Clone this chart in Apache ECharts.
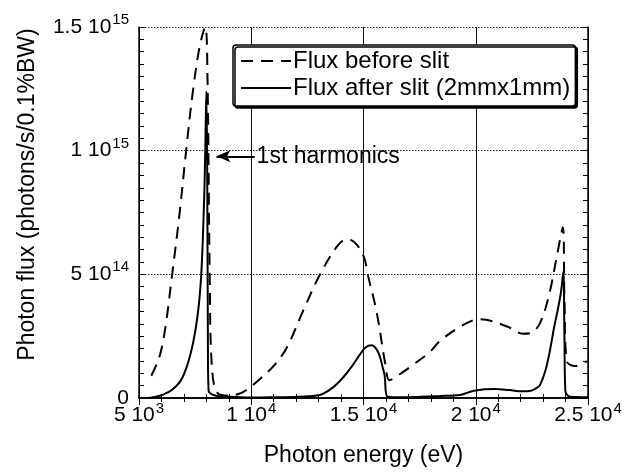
<html>
<head>
    <meta charset="UTF-8">
    <title>Photon flux</title>
    <script src="https://cdn.jsdelivr.net/npm/echarts@6/dist/echarts.min.js"></script>
    <style>
        body { margin: 0; background: #fff; }
        #container { width: 635px; height: 472px; }
    </style>
</head>

<body>
    <div id="container"></div>
</body>

<script>
    // photon energy in eV, flux in units of 1e14 photons/s/0.1%BW
    var beforeX = [5550, 5800, 5980, 6200, 6470, 6800, 7100, 7400, 7700, 7950, 8050, 8150, 8250, 8500, 9000, 9400, 9777,
        10300, 11000, 11560, 12300, 13036, 13840, 14285, 14700, 15045, 15180, 15580, 15980, 16160, 16600, 17190,
        18000, 18390, 19150, 19870, 20180, 20760, 21500, 22100, 22500, 22900, 23300, 23615, 23880, 23950, 24050,
        24420, 24950];
    var beforeY = [0.9, 1.4, 1.9, 3.0, 4.95, 7.4, 10.0, 12.4, 14.2, 15.0, 13, 5, 1.2, 0.2, 0.1, 0.15, 0.32,
        0.7, 1.3, 2.0, 3.5, 4.95, 6.15, 6.43, 6.2, 5.63, 5.03, 3.5, 1.33, 0.72, 0.95, 1.33,
        1.9, 2.29, 2.8, 3.14, 3.18, 3.1, 2.85, 2.6, 2.65, 3.1, 4.3, 5.75, 6.9, 4.0, 1.5,
        1.29, 1.49];
    var afterX = [5400, 5700, 6030, 6500, 6920, 7300, 7590, 7770, 7900, 7950, 8000, 8040, 8070, 8100, 8400, 9000,
        10000, 11000, 12140, 13036, 13600, 14060, 14500, 14820, 15100, 15360, 15560, 15710, 15850, 15940, 16070,
        16500, 17500, 18390, 19290, 19870, 20400, 20850, 21500, 22100, 22410, 22700, 22860, 23100, 23300, 23500,
        23660, 23800, 23900, 23950, 23990, 24200, 25000];
    var afterY = [0, 0.04, 0.12, 0.35, 0.8, 1.8, 3.2, 4.95, 8.0, 9.9, 12.4, 9, 2, 0.3, 0.1, 0.05,
        0.02, 0.03, 0.05, 0.12, 0.4, 0.8, 1.3, 1.73, 2.05, 2.13, 2.0, 1.73, 1.25, 0.92, 0.05,
        0.03, 0.05, 0.08, 0.12, 0.28, 0.35, 0.36, 0.32, 0.27, 0.28, 0.4, 0.52, 1.1, 1.9, 2.9,
        3.6, 4.3, 5.1, 2.5, 0.3, 0.05, 0.03];
    var xTickLabels = { 5000: ['5 10', '3'], 10000: ['1 10', '4'], 15000: ['1.5 10', '4'], 20000: ['2 10', '4'], 25000: ['2.5 10', '4'] };
    var yTickLabels = { 0: ['0', ''], 5: ['5 10', '14'], 10: ['1 10', '15'], 15: ['1.5 10', '15'] };
    var seriesNames = ['Flux before slit', 'Flux after slit (2mmx1mm)'];

    function pairs(xs, ys) {
        var out = [];
        for (var i = 0; i < xs.length; i++) {
            out.push([xs[i], ys[i]]);
        }
        return out;
    }

    function tickText(table) {
        return function (v) {
            var t = table[v];
            if (!t) return '';
            return t[1] ? '{b|' + t[0] + '}{s|' + t[1] + '}' : '{b|' + t[0] + '}';
        };
    }

    var FONT = 'Liberation Sans';
    var rich = {
        b: { fontFamily: FONT, fontSize: 21, color: '#000' },
        s: { fontFamily: FONT, fontSize: 15, color: '#000', padding: [0, 0, 14, 1] }
    };
    var thinTick = { color: '#000', width: 1 };

    var mycharts = echarts.init(document.getElementById('container'));
    var option = {
        animation: false,
        backgroundColor: '#fff',
        textStyle: { fontFamily: FONT, color: '#000' },
        grid: { left: 139, right: 47, top: 27, bottom: 72 },
        legend: {
            data: seriesNames,
            orient: 'vertical',
            left: 233,
            top: 45,
            itemWidth: 50,
            itemHeight: 26,
            itemGap: 3,
            padding: [4, 5, 6, 7],
            backgroundColor: '#fff',
            borderColor: '#000',
            borderWidth: 1.5,
            borderRadius: 3,
            shadowColor: '#000',
            shadowOffsetX: 2,
            shadowOffsetY: 2,
            shadowBlur: 0,
            itemStyle: { opacity: 0 },
            textStyle: { fontFamily: FONT, fontSize: 24, color: '#000', padding: [0, 0, 0, -3] }
        },
        xAxis: [{
            type: 'value',
            min: 5000,
            max: 25000,
            interval: 5000,
            name: 'Photon energy (eV)',
            nameLocation: 'middle',
            nameGap: 46,
            nameTextStyle: { fontFamily: FONT, fontSize: 23, color: '#000' },
            axisLine: { lineStyle: { color: '#000', width: 1.5 } },
            axisTick: { inside: true, length: 7, lineStyle: thinTick },
            minorTick: { show: true, splitNumber: 5, length: 4, lineStyle: thinTick },
            axisLabel: { margin: 3, formatter: tickText(xTickLabels), rich: rich },
            splitLine: { show: true, lineStyle: { color: '#111', width: 1 } }
        }, {
            type: 'value',
            position: 'top',
            min: 5000,
            max: 25000,
            interval: 5000,
            axisLine: { lineStyle: { color: '#000', width: 1.5 } },
            axisTick: { inside: true, length: 7, lineStyle: thinTick },
            minorTick: { show: true, splitNumber: 5, length: 4, lineStyle: thinTick },
            axisLabel: { show: false },
            splitLine: { show: false }
        }],
        yAxis: [{
            type: 'value',
            min: 0,
            max: 15,
            interval: 5,
            name: 'Photon flux (photons/s/0.1%BW)',
            nameLocation: 'middle',
            nameGap: 100,
            nameTextStyle: { fontFamily: FONT, fontSize: 23, color: '#000', padding: [0, 0, 0, 36] },
            axisLine: { show: true, lineStyle: { color: '#000', width: 1.5 } },
            axisTick: { show: true, inside: true, length: 7, lineStyle: thinTick },
            minorTick: { show: true, splitNumber: 10, length: 5, lineStyle: thinTick },
            axisLabel: { margin: 10, formatter: tickText(yTickLabels), rich: rich },
            splitLine: { show: true, lineStyle: { color: '#222', width: 1, type: [1.5, 1.5] } }
        }, {
            type: 'value',
            position: 'right',
            min: 0,
            max: 15,
            interval: 5,
            axisLine: { show: true, lineStyle: { color: '#000', width: 1.5 } },
            axisTick: { show: true, inside: true, length: 7, lineStyle: thinTick },
            minorTick: { show: true, splitNumber: 10, length: 5, lineStyle: thinTick },
            axisLabel: { show: false },
            splitLine: { show: false }
        }],
        series: [{
            name: seriesNames[0],
            type: 'line',
            data: pairs(beforeX, beforeY),
            showSymbol: false,
            symbol: 'none',
            smooth: 0.35,
            color: '#000',
            lineStyle: { color: '#000', width: 2, type: [12, 8] },
            z: 3
        }, {
            name: seriesNames[1],
            type: 'line',
            data: pairs(afterX, afterY),
            showSymbol: false,
            symbol: 'none',
            smooth: 0.35,
            color: '#000',
            lineStyle: { color: '#000', width: 2 },
            z: 4,
            markLine: {
                silent: true,
                symbol: ['arrow', 'none'],
                symbolSize: [9, 14],
                lineStyle: { color: '#000', width: 2, type: 'solid' },
                label: {
                    show: true,
                    position: 'end',
                    distance: 2,
                    formatter: '1st harmonics',
                    fontFamily: FONT,
                    fontSize: 23,
                    color: '#000'
                },
                data: [[{ coord: [8450, 9.77] }, { coord: [10150, 9.77] }]]
            }
        }]
    };
    mycharts.setOption(option);
</script>
</html>
